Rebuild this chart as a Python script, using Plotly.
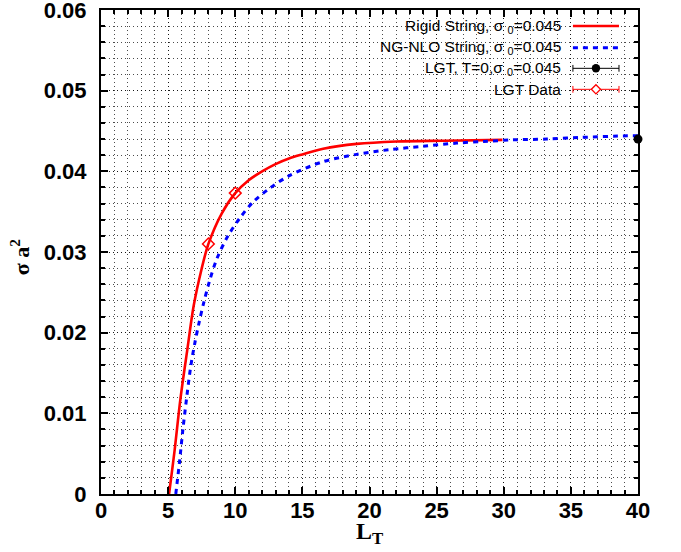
import plotly.graph_objects as go

# Rigid string curve
rigid_L = [5.07, 5.49, 5.91, 6.43, 6.90, 7.48, 8.00, 9.00, 10.0, 11.0, 12.0, 13.0, 14.0, 15.0, 16.55, 19.04, 22.03, 25.5, 29.9]
rigid_s = [0.0, 0.0055, 0.0117, 0.0179, 0.0233, 0.0278, 0.0310, 0.0348, 0.0373, 0.0389, 0.0400, 0.0409, 0.0416, 0.0421, 0.0428, 0.0434, 0.0437, 0.0438, 0.0439]

# NG-NLO string curve
nlo_L = [5.57, 5.85, 6.10, 6.40, 6.70, 7.00, 7.30, 7.65, 8.10, 8.64, 9.46, 10.34, 11.33, 12.57, 14.07, 16.55, 19.04, 21.53, 24.0, 26.5, 28.5, 30.7, 33.2, 35.7, 39.2, 40.0]
nlo_s = [0.0, 0.0040, 0.0080, 0.0122, 0.0160, 0.0188, 0.0212, 0.0237, 0.0265, 0.0292, 0.0320, 0.0342, 0.0362, 0.0379, 0.0395, 0.0412, 0.0421, 0.0427, 0.0431, 0.0435, 0.0437, 0.0439, 0.0440, 0.0442, 0.0444, 0.0444]

# LGT data
lgt_L = [8.0, 10.0]
lgt_s = [0.0310, 0.0373]

# LGT T=0
t0_L = [40.0]
t0_s = [0.0440]

legend_labels = [
    "Rigid String, σ <sub>0</sub>=0.045",
    "NG-NLO String, σ <sub>0</sub>=0.045",
    "LGT, T=0,σ <sub>0</sub>=0.045",
    "LGT Data",
]

x_ticks = [0, 5, 10, 15, 20, 25, 30, 35, 40]
y_ticks = [0, 0.01, 0.02, 0.03, 0.04, 0.05, 0.06]
y_ticktext = ["0", "0.01", "0.02", "0.03", "0.04", "0.05", "0.06"]
x_title = "L<sub>T</sub>"
y_title = "σ a<sup>2</sup>"

fig = go.Figure()
fig.add_trace(go.Scatter(x=rigid_L, y=rigid_s, mode="lines", line=dict(color="#ff0000", width=2.6, shape="spline", smoothing=0.9),
                         showlegend=False))
fig.add_trace(go.Scatter(x=nlo_L, y=nlo_s, mode="lines", line=dict(color="#0000ff", width=3, dash="5px,5px", shape="spline", smoothing=0.9),
                         showlegend=False))
fig.add_trace(go.Scatter(x=lgt_L, y=lgt_s, mode="markers",
                         marker=dict(symbol="diamond-open", size=9, color="#ff0000", line=dict(width=1.5, color="#ff0000")),
                         showlegend=False))
fig.add_trace(go.Scatter(x=t0_L, y=t0_s, mode="markers", cliponaxis=False,
                         marker=dict(symbol="circle", size=9, color="black"), showlegend=False))

# Custom gnuplot-style key
shapes = []
annotations = []
shapes.append(dict(type="rect", xref="paper", yref="paper", x0=0.452, x1=0.985, y0=0.804, y1=0.988,
                   fillcolor="white", line=dict(width=0), layer="between"))
rows = [0.9669, 0.9221, 0.8795, 0.8361]
tx = 0.86
sx0, sx1, sxm = 0.8788, 0.9646, 0.9217
for lab, ry in zip(legend_labels, rows):
    annotations.append(dict(text=lab, xref="paper", yref="paper", x=tx, y=ry, xanchor="right", yanchor="middle",
                            showarrow=False, font=dict(family="Liberation Sans, Arial", size=15.5, color="black")))
shapes.append(dict(type="line", xref="paper", yref="paper", x0=sx0, x1=sx1, y0=rows[0], y1=rows[0],
                   line=dict(color="#ff0000", width=2.6)))
shapes.append(dict(type="line", xref="paper", yref="paper", x0=sx0, x1=sx1, y0=rows[1], y1=rows[1],
                   line=dict(color="#0000ff", width=3, dash="5px,5px")))
cap = 0.007
for ry, col in [(rows[2], "black"), (rows[3], "#ff0000")]:
    shapes.append(dict(type="line", xref="paper", yref="paper", x0=sx0, x1=sx1, y0=ry, y1=ry,
                       line=dict(color=col, width=1)))
    for xx in (sx0, sx1):
        shapes.append(dict(type="line", xref="paper", yref="paper", x0=xx, x1=xx, y0=ry - cap, y1=ry + cap,
                           line=dict(color=col, width=1)))
dx, dy = 0.0078, 0.0087
shapes.append(dict(type="circle", xref="paper", yref="paper", x0=sxm - dx, x1=sxm + dx, y0=rows[2] - dy, y1=rows[2] + dy,
                   fillcolor="black", line=dict(color="black", width=0)))
ddx, ddy = 0.0085, 0.0095
ry = rows[3]
shapes.append(dict(type="path", xref="paper", yref="paper",
                   path=f"M {sxm-ddx} {ry} L {sxm} {ry+ddy} L {sxm+ddx} {ry} L {sxm} {ry-ddy} Z",
                   fillcolor="white", line=dict(color="#ff0000", width=1.3)))

# Axis titles as annotations
annotations.append(dict(text=x_title, xref="paper", yref="paper", x=0.5, y=-0.08, xanchor="center", yanchor="middle",
                        showarrow=False, font=dict(family="Liberation Serif, Times New Roman", size=24, color="black", weight="bold")))
annotations.append(dict(text=y_title, xref="paper", yref="paper", x=-0.152, y=0.49, xanchor="center", yanchor="middle",
                        textangle=-90, showarrow=False,
                        font=dict(family="Liberation Serif, Times New Roman", size=22, color="black", weight="bold")))

tickfont = dict(family="Liberation Sans, Arial", size=22, color="black", weight="bold")
gridkw = dict(showgrid=True, gridcolor="rgba(0,0,0,0.7)", griddash="1px,3px", gridwidth=1)

fig.update_layout(
    width=681, height=552,
    margin=dict(l=101, r=43, t=10, b=58, autoexpand=False),
    paper_bgcolor="white", plot_bgcolor="white",
    shapes=shapes, annotations=annotations,
    xaxis=dict(range=[0, 40.0000001], tickvals=x_ticks, ticktext=[str(v) for v in x_ticks],
               ticks="inside", ticklen=7, tickwidth=1.5, tickcolor="black",
               showline=True, linecolor="black", linewidth=2, mirror="allticks",
               tickfont=tickfont, ticklabelstandoff=-4, automargin=False, ticklabeloverflow="allow",
               zeroline=False, **gridkw,
               minor=dict(dtick=1, ticks="inside", ticklen=4, tickcolor="black", **gridkw)),
    yaxis=dict(range=[0, 0.0600000001], tickvals=y_ticks, ticktext=y_ticktext,
               ticks="inside", ticklen=7, tickwidth=1.5, tickcolor="black",
               showline=True, linecolor="black", linewidth=2, mirror="allticks",
               tickfont=tickfont, ticklabelstandoff=8, automargin=False, ticklabeloverflow="allow",
               zeroline=False, **gridkw,
               minor=dict(dtick=0.002, ticks="inside", ticklen=4, tickcolor="black", **gridkw)),
)

fig.write_html("out.html", config={"displayModeBar": False},
               post_script="document.body.style.margin='0px';")
